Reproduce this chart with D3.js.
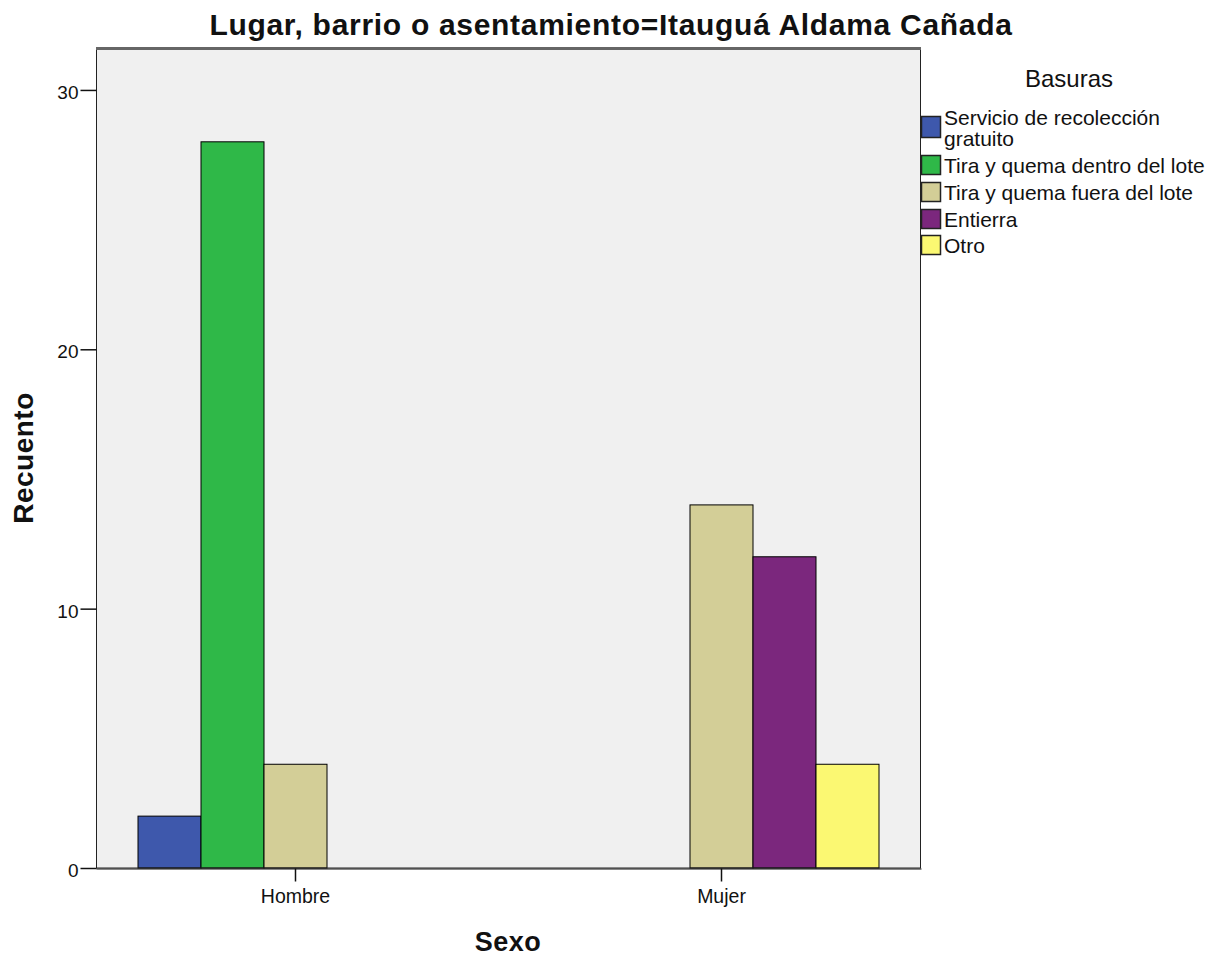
<!DOCTYPE html>
<html>
<head>
<meta charset="utf-8">
<script src="https://cdn.jsdelivr.net/npm/d3@7"></script>
<style>
body { margin: 0; background: #fff; }
svg { display: block; font-family: Arial, "Liberation Sans", sans-serif; }
</style>
</head>
<body>
<svg id="chart" width="1229" height="958"></svg>
<script>
// data
var sexos = ["Hombre", "Mujer"];
var basuras = ["Servicio de recolección gratuito", "Tira y quema dentro del lote", "Tira y quema fuera del lote", "Entierra", "Otro"];
var hombreValues = [2, 28, 4, 0, 0];
var mujerValues = [0, 0, 14, 12, 4];
var yTicks = [0, 10, 20, 30];
var colors = ["#3e58ac", "#2fb848", "#d3ce97", "#7b277d", "#fbf872"];

var margin = {left: 96, right: 921, top: 50, bottom: 868};

var svg = d3.select("#chart");

var x0 = d3.scaleBand()
	.domain(sexos)
	.range([margin.left, margin.right])
	.paddingInner(0.2606)
	.paddingOuter(0.0986);

var x1 = d3.scaleBand()
	.domain(basuras)
	.range([0, x0.bandwidth()]);

var y = d3.scaleLinear()
	.domain([0, 31.54])
	.range([margin.bottom, margin.top]);

// plot background
svg.append("rect")
	.attr("x", margin.left)
	.attr("y", margin.top)
	.attr("width", margin.right - margin.left)
	.attr("height", margin.bottom - margin.top)
	.attr("fill", "#f0f0f0");

var rows = sexos.map(function(s, i) {
	var vals = i === 0 ? hombreValues : mujerValues;
	return {sexo: s, values: vals};
});

var groups = svg.selectAll("g.grupo")
	.data(rows)
	.enter().append("g")
	.attr("class", "grupo")
	.attr("transform", function(d) { return "translate(" + x0(d.sexo) + ",0)"; });

groups.selectAll("rect")
	.data(function(d) { return d.values.map(function(v, j) { return {key: basuras[j], value: v, color: colors[j]}; }); })
	.enter().filter(function(d) { return d.value > 0; })
	.append("rect")
	.attr("x", function(d) { return x1(d.key); })
	.attr("y", function(d) { return y(d.value); })
	.attr("width", x1.bandwidth())
	.attr("height", function(d) { return y(0) - y(d.value); })
	.attr("fill", function(d) { return d.color; })
	.attr("stroke", "#000")
	.attr("stroke-width", 1);

// frame
svg.append("rect")
	.attr("x", margin.left + 0.5)
	.attr("y", margin.top - 1)
	.attr("width", margin.right - margin.left - 1)
	.attr("height", margin.bottom - margin.top + 1)
	.attr("fill", "none")
	.attr("stroke", "#222")
	.attr("stroke-width", 1);
svg.append("line")
	.attr("x1", margin.left).attr("x2", margin.right)
	.attr("y1", margin.top - 1.5).attr("y2", margin.top - 1.5)
	.attr("stroke", "#666").attr("stroke-width", 3);

// axes
var yAxis = d3.axisLeft(y).tickValues(yTicks).tickSize(16).tickPadding(2);
var gy = svg.append("g")
	.attr("transform", "translate(" + (margin.left + 0.5) + ",0)")
	.call(yAxis);
gy.select(".domain").remove();
gy.selectAll("text").attr("font-size", 19).attr("fill", "#111").attr("dy", "0.45em");
gy.selectAll("line").attr("stroke", "#111").attr("stroke-width", 1.5);

var xAxis = d3.axisBottom(x0).tickSize(13).tickSizeOuter(0).tickPadding(8);
var gx = svg.append("g")
	.attr("transform", "translate(0," + (margin.bottom + 0.5) + ")")
	.call(xAxis);
gx.select(".domain").attr("stroke", "#111");
gx.selectAll("text").attr("font-size", 19.5).attr("fill", "#111");
gx.selectAll("line").attr("stroke", "#111").attr("stroke-width", 1.5);

// title and axis labels
svg.append("text")
	.attr("x", 611)
	.attr("y", 35)
	.attr("text-anchor", "middle")
	.attr("font-weight", "bold")
	.attr("font-size", 30)
	.attr("letter-spacing", 0.7)
	.attr("fill", "#111")
	.text("Lugar, barrio o asentamiento=Itauguá Aldama Cañada");

svg.append("text")
	.attr("transform", "translate(33,458) rotate(-90)")
	.attr("text-anchor", "middle")
	.attr("font-weight", "bold")
	.attr("font-size", 28)
	.attr("letter-spacing", 0.5)
	.attr("fill", "#111")
	.text("Recuento");

svg.append("text")
	.attr("x", 508)
	.attr("y", 951)
	.attr("text-anchor", "middle")
	.attr("font-weight", "bold")
	.attr("font-size", 27)
	.attr("letter-spacing", 0.5)
	.attr("fill", "#111")
	.text("Sexo");

// legend
var legend = svg.append("g");
legend.append("text")
	.attr("x", 1069)
	.attr("y", 87)
	.attr("text-anchor", "middle")
	.attr("font-size", 24)
	.attr("fill", "#111")
	.text("Basuras");

var legendLines = [["Servicio de recolección", "gratuito"], ["Tira y quema dentro del lote"], ["Tira y quema fuera del lote"], ["Entierra"], ["Otro"]];
var textY = [125, 146, 173, 200, 227, 253];

var item = legend.selectAll("g.item")
	.data(basuras)
	.enter().append("g")
	.attr("class", "item");

item.append("rect")
	.attr("x", 921.5)
	.attr("y", function(d, i) { return i === 0 ? 116.5 : textY[i + 1] - 17.5; })
	.attr("width", 19)
	.attr("height", function(d, i) { return i === 0 ? 21 : 19; })
	.attr("fill", function(d, i) { return colors[i]; })
	.attr("stroke", "#222")
	.attr("stroke-width", 1.5);

item.each(function(d, i) {
	var lines = legendLines[i];
	var start = i === 0 ? 0 : i + 1;
	var g = d3.select(this);
	lines.forEach(function(t, k) {
		g.append("text")
			.attr("x", 944)
			.attr("y", textY[start + k])
			.attr("font-size", 21)
			.attr("fill", "#111")
			.text(t);
	});
});
</script>
</body>
</html>
